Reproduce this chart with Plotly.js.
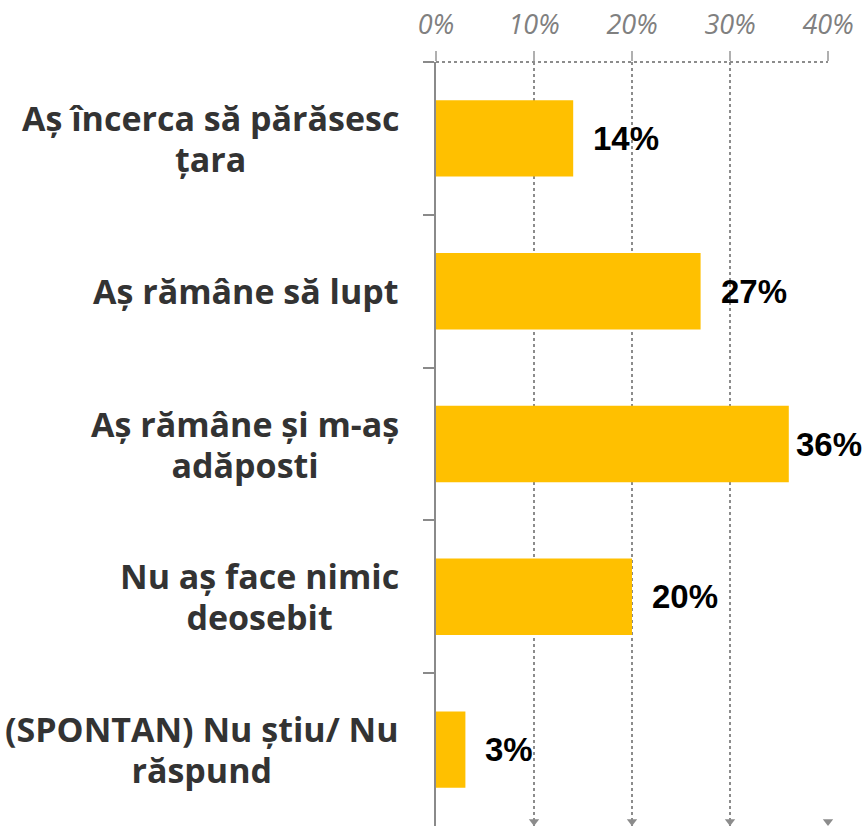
<!DOCTYPE html>
<html>
<head>
<meta charset="utf-8">
<script src="https://cdn.plot.ly/plotly-3.0.1.min.js"></script>
<style>html,body{margin:0;padding:0;background:#fff;}#chart{width:864px;height:826px;}</style>
</head>
<body>
<div id="chart"></div>
<script>
const categories = [
  "Aș încerca să părăsesc<br>țara",
  "Aș rămâne să lupt",
  "Aș rămâne și m-aș<br>adăposti",
  "Nu aș face nimic<br>deosebit",
  "(SPONTAN) Nu știu/ Nu<br>răspund"
];
const values = [0.14, 0.27, 0.36, 0.20, 0.03];
const valueLabels = ["14%", "27%", "36%", "20%", "3%"];
const tickValues = [0, 0.1, 0.2, 0.3, 0.4];
const tickLabels = ["0%", "10%", "20%", "30%", "40%"];
const arrowTicks = [0.1, 0.2, 0.3, 0.4];

const W = 864, H = 826;
const M = {l: 436, r: 36, t: 62, b: 0};
const xMax = 0.4;
const plotW = W - M.l - M.r;

const bars = {
  type: 'bar', orientation: 'h',
  x: values, y: categories,
  marker: {color: '#FFC000'},
  width: 0.5,
  hoverinfo: 'skip'
};
const arrows = {
  type: 'scatter', mode: 'markers',
  x: arrowTicks, y: arrowTicks.map(() => 0.006),
  yaxis: 'y2',
  marker: {symbol: 'triangle-down', size: 9, color: '#8c8c8c'},
  cliponaxis: false, hoverinfo: 'skip', showlegend: false
};

const annotations = [];
categories.forEach((c, i) => {
  const lines = c.split('<br>').map(s => '<span style="font-size:34px">' + s + '</span>').join('<br>');
  annotations.push({
    xref: 'paper', x: 0, xanchor: 'right', xshift: -35,
    yref: 'y', y: c, yanchor: 'middle',
    text: lines, showarrow: false, align: 'center',
    font: {family: 'Open Sans', size: 31.5, color: '#333333', weight: 700}
  });
  const endPx = M.l + values[i] / xMax * plotW;
  const labW = 66;
  let shift = 18;
  if (endPx + shift + labW > W - 4) shift = Math.max(3, W - 4 - labW - endPx);
  annotations.push({
    xref: 'x', x: values[i], xanchor: 'left', xshift: shift,
    yref: 'y', y: c, yanchor: 'middle',
    text: valueLabels[i], showarrow: false,
    font: {family: 'Liberation Sans, Arial, sans-serif', size: 33, color: '#000000', weight: 700}
  });
});

const layout = {
  width: W, height: H,
  margin: M,
  paper_bgcolor: '#ffffff', plot_bgcolor: '#ffffff',
  showlegend: false,
  bargap: 0.5,
  xaxis: {
    side: 'top', range: [0, xMax], tickvals: tickValues, ticktext: tickLabels,
    showgrid: true, gridcolor: '#8c8c8c', gridwidth: 2, griddash: 'dot',
    zeroline: false, showline: false,
    ticks: 'outside', ticklen: 10, tickwidth: 2, tickcolor: '#b0b0b0',
    ticklabelstandoff: 6,
    tickfont: {family: 'Open Sans', size: 27, color: '#808080', style: 'italic'},
    fixedrange: true
  },
  yaxis: {
    type: 'category', autorange: 'reversed',
    showticklabels: false, showgrid: false, zeroline: false,
    showline: true, linecolor: '#8a8a8a', linewidth: 2,
    ticks: 'outside', ticklen: 11, tickwidth: 2, tickcolor: '#8a8a8a',
    tickson: 'boundaries', fixedrange: true
  },
  yaxis2: {overlaying: 'y', range: [0, 1], visible: false, fixedrange: true},
  shapes: [{
    type: 'line', xref: 'paper', yref: 'paper', x0: 0, x1: 1, y0: 1, y1: 1,
    line: {color: '#8c8c8c', width: 2, dash: 'dot'}
  }],
  annotations: annotations
};

Plotly.newPlot('chart', [bars, arrows], layout, {displayModeBar: false, staticPlot: true});
</script>
</body>
</html>
